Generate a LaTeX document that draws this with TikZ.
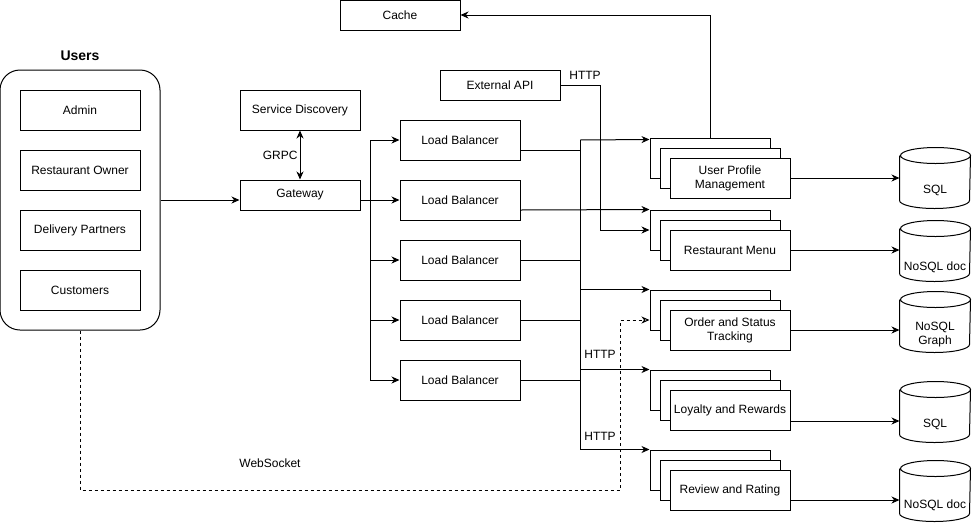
\documentclass[tikz,border=0pt]{standalone}
\usepackage{fontspec}
\setmainfont{Liberation Sans}
\usetikzlibrary{arrows.meta,calc}

\begin{document}
\begin{tikzpicture}[x=1pt, y=-1pt, line width=1pt, font=\fontsize{12}{14}\selectfont,
  box/.style={draw, fill=white, minimum width=120pt, minimum height=40pt, align=center, inner sep=1pt},
  arr/.style={-{Stealth[length=8pt, width=7pt, inset=2.5pt]}},
  warr/.style={dash pattern=on 3pt off 3pt, -{Stealth[open, length=8pt, width=7pt, inset=2.5pt]}},
  dbl/.style={{Stealth[length=8pt, width=7pt, inset=2.5pt]}-{Stealth[length=8pt, width=7pt, inset=2.5pt]}},
  db/.style={minimum width=70pt, minimum height=60pt, inner sep=0pt}]
  \useasboundingbox (0,0) rectangle (972,523);

  \node[draw, rounded corners=20pt, minimum width=160pt, minimum height=260pt] (users) at (80,200) {};
  \node[font=\fontsize{14}{16}\selectfont\bfseries] (userstitle) at (80,56) {Users};
  \node[box] (admin) at (80,110) {Admin};
  \node[box] (owner) at (80,170) {Restaurant Owner};
  \node[box] (partners) at (80,230) {Delivery Partners};
  \node[box] (customers) at (80,290) {Customers};

  \node[box] (sd) at (300,110) {Service Discovery};
  \node[box, minimum height=30pt] (gw) at (300,195) {Gateway};
  \node[box, minimum height=30pt] (cache) at (400,15) {Cache};
  \node[box, minimum height=30pt] (ext) at (500,85) {External API};

  \node[box] (lb1) at (460,140) {Load Balancer};
  \node[box] (lb2) at (460,200) {Load Balancer};
  \node[box] (lb3) at (460,260) {Load Balancer};
  \node[box] (lb4) at (460,320) {Load Balancer};
  \node[box] (lb5) at (460,380) {Load Balancer};

  \node[box] (upmC) at (710,158) {};
  \node[box] (upmB) at (720,168) {};
  \node[box] (upm) at (730,178) {User Profile\\Management};
  \node[box] (menuC) at (710,230) {};
  \node[box] (menuB) at (720,240) {};
  \node[box] (menu) at (730,250) {Restaurant Menu};
  \node[box] (orderC) at (710,310) {};
  \node[box] (orderB) at (720,320) {};
  \node[box] (order) at (730,330) {Order and Status\\Tracking};
  \node[box] (loyalC) at (710,390) {};
  \node[box] (loyalB) at (720,400) {};
  \node[box] (loyal) at (730,410) {Loyalty and Rewards};
  \node[box] (reviewC) at (710,470) {};
  \node[box] (reviewB) at (720,480) {};
  \node[box] (review) at (730,490) {Review and Rating};

  \node[db, label={[name=sqlAtext, yshift=-12pt]center:SQL}] (sqlA) at (935,178) {};
  \node[db, label={[name=docAtext, yshift=-16pt]center:NoSQL doc}] (docA) at (935,251) {};
  \node[db, label={[name=graphtext, align=center, yshift=-13pt]center:NoSQL\\Graph}] (graph) at (935,322) {};
  \node[db, label={[name=sqlBtext, yshift=-12pt]center:SQL}] (sqlB) at (935,412) {};
  \node[db, label={[name=docBtext, yshift=-14pt]center:NoSQL doc}] (docB) at (935,491) {};
  \foreach \c in {sqlA,docA,graph,sqlB,docB}
    \draw ([yshift=-8pt]\c.north west) -- ([yshift=8pt]\c.south west)
      arc[start angle=180, end angle=360, x radius=35pt, y radius=8pt]
      -- ([yshift=-8pt]\c.north east)
      arc[start angle=0, end angle=360, x radius=35pt, y radius=8pt];

  \draw[arr] (users.east) -- (users.east -| gw.west);
  \draw[dbl] (sd.south) -- (gw.north) node[midway, left, inner sep=2pt] (grpc) {GRPC};

  \coordinate (split) at (370,200);
  \draw[arr] (gw.east |- lb2.west) -- (lb2.west);
  \draw (split |- lb1) -- (split |- lb5);
  \draw[arr] (split |- lb1) -- (lb1.west);
  \draw[arr] (split |- lb3) -- (lb3.west);
  \draw[arr] (split |- lb4) -- (lb4.west);
  \draw[arr] (split |- lb5) -- (lb5.west);

  \coordinate (bus) at (580,140);
  \draw (bus) -- (bus |- reviewC.north);
  \draw ([yshift=-10pt]lb1.east) -- ([yshift=-10pt]lb1.east -| bus);
  \draw[arr] ([yshift=-10pt]lb2.east) -- (menuC.north west);
  \draw (lb3.east) -- (lb3.east -| bus);
  \draw (lb4.east) -- (lb4.east -| bus);
  \draw (lb5.east) -- (lb5.east -| bus);
  \draw[arr] (bus) -- ([yshift=-2pt]upmC.north west);
  \draw[arr] (bus |- orderC.north) -- (orderC.north west);
  \draw[arr] (bus |- loyalC.north) -- (loyalC.north west);
  \draw[arr] (bus |- reviewC.north) -- (reviewC.north west);
  \node (httpB) at (600,354) {HTTP};
  \node (httpC) at (600,436) {HTTP};

  \draw[arr] (ext.east) -- ++(40,0) |- (menuC.west);
  \node (httpA) at (585,75) {HTTP};

  \draw[arr] (upmC.north) |- (cache.east);

  \coordinate (wsturn) at (620,490);
  \draw[warr] (users.south) |- (wsturn) |- ([yshift=-10pt]orderC.west);
  \node (ws) at (270,463) {WebSocket};

  \draw[arr] (upm.east) -- (upm.east -| sqlA.west);
  \draw[arr] (menu.east) -- (menu.east -| docA.west);
  \draw[arr] (order.east) -- (order.east -| graph.west);
  \draw[arr] ([yshift=-11pt]loyal.east) -- ([yshift=-11pt]loyal.east -| sqlB.west);
  \draw[arr] ([yshift=-10pt]review.east) -- ([yshift=-10pt]review.east -| docB.west);
\end{tikzpicture}
\end{document}
